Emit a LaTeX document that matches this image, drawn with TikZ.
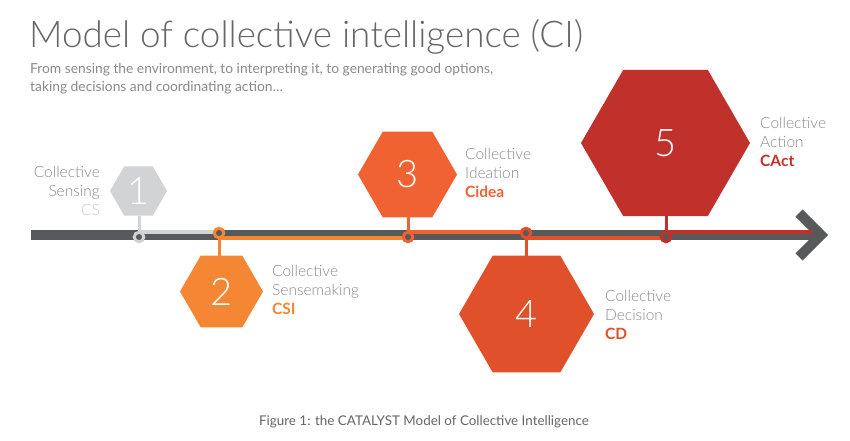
\documentclass[tikz,border=0pt]{standalone}
\usepackage{fontspec}
\setmainfont{Lato}
\newfontfamily\latolight{Lato Light}
\usetikzlibrary{shapes.geometric}
\definecolor{barcol}{HTML}{58595B}
\definecolor{hexone}{HTML}{D1D3D4}
\definecolor{hextwo}{HTML}{F58634}
\definecolor{hexthree}{HTML}{F06232}
\definecolor{hexfour}{HTML}{E0502A}
\definecolor{hexfive}{HTML}{C0312B}
\definecolor{labgray}{HTML}{8A8A8A}
\definecolor{csgray}{HTML}{C8C8C8}
\definecolor{titlegray}{HTML}{666666}
\begin{document}
\begin{tikzpicture}[x=1pt,y=-1pt,
  hexa/.style={regular polygon,regular polygon sides=6,inner sep=0pt,outer sep=0pt,
    minimum size=#1,text=white,font=\latolight\fontsize{38}{40}\selectfont},
  ring/.style={circle,draw=#1,line width=3pt,fill=barcol,minimum size=9.5pt,inner sep=0pt},
  conn/.style={draw=#1,line width=4pt},
  lab/.style={inner sep=0pt,text=labgray,font=\latolight\fontsize{15.5}{19}\selectfont}
]
\useasboundingbox[fill=white] (0,0) rectangle (850,440);

% title
\node[anchor=base west,inner sep=0pt,text=titlegray,font=\latolight\fontsize{36.8}{40}\selectfont] (title) at (29,47) {Model of collective intelligence (CI)};
\node[anchor=north west,inner sep=0pt,text=labgray,align=left,font=\fontsize{13.8}{18}\selectfont] (sub) at (30,63) {From sensing the environment, to interpreting it, to generating good options,\\taking decisions and coordinating action\dots};

% main bar and arrow head
\coordinate (barstart) at (31,235);
\coordinate (barend) at (819,235);
\draw[barcol,line width=10pt] (barstart) -- (barend);
\coordinate (chevtop) at (799,213);
\coordinate (chevtip) at (821,235);
\coordinate (chevbot) at (799,257);
\draw[barcol,line width=10pt,line join=miter] (chevtop) -- (chevtip) -- (chevbot);

% circle positions
\coordinate (p1) at (139,237);
\coordinate (p2) at (219,233);
\coordinate (p3) at (408,237);
\coordinate (p4) at (526,233);
\coordinate (p5) at (666,237);
\coordinate (pend) at (812,237);

% connecting lines along bar
\draw[conn=hexone] ([yshift=5pt]p1) -- ([yshift=5pt]p1 -| p2);
\draw[conn=hextwo] ([yshift=-5pt]p2) -- ([yshift=-5pt]p2 -| p3);
\draw[conn=hexthree] ([yshift=5pt]p3) -- ([yshift=5pt]p3 -| p4);
\draw[conn=hexfour] ([yshift=-5pt]p4) -- ([yshift=-5pt]p4 -| p5);
\draw[conn=hexfive] ([yshift=5pt]p5) -- ([yshift=5pt]pend);

% hexagons
\node[hexa=57pt,fill=hexone] (h1) at (138.5,191) {1};
\node[hexa=83pt,fill=hextwo] (h2) at (221.5,291.5) {2};
\node[hexa=99pt,fill=hexthree] (h3) at (407.5,174.5) {3};
\node[hexa=135pt,fill=hexfour] (h4) at (526.5,314) {4};
\node[hexa=169pt,fill=hexfive] (h5) at (665.5,143) {5};

% stems
\draw[conn=hexone,line width=3pt] (p1) -- (p1 |- h1.south);
\draw[conn=hextwo,line width=3pt] (p2) -- (p2 |- h2.north);
\draw[conn=hexthree,line width=3pt] (p3) -- (p3 |- h3.south);
\draw[conn=hexfour,line width=3pt] (p4) -- (p4 |- h4.north);
\draw[conn=hexfive,line width=3pt] (p5) -- (p5 |- h5.south);

% rings
\node[ring=hexone] (r1) at (p1) {};
\node[ring=hextwo] (r2) at (p2) {};
\node[ring=hexthree] (r3) at (p3) {};
\node[ring=hexfour] (r4) at (p4) {};
\node[ring=hexfive] (r5) at (p5) {};

% labels
\node[lab,align=right,anchor=north east] (l1) at (100,166) {Collective\\Sensing\\{\color{csgray}CS}};
\node[lab,align=left,anchor=north west] (l2) at (272,265) {Collective\\Sensemaking\\{\color{hextwo}\normalfont\fontsize{15.5}{19}\selectfont\bfseries CSI}};
\node[lab,align=left,anchor=north west] (l3) at (465,148) {Collective\\Ideation\\{\color{hexthree}\normalfont\fontsize{15.5}{19}\selectfont\bfseries Cidea}};
\node[lab,align=left,anchor=north west] (l4) at (605,290) {Collective\\Decision\\{\color{hexfour}\normalfont\fontsize{15.5}{19}\selectfont\bfseries CD}};
\node[lab,align=left,anchor=north west] (l5) at (760,117) {Collective\\Action\\{\color{hexfive}\normalfont\fontsize{15.5}{19}\selectfont\bfseries CAct}};

% caption
\node[anchor=base,inner sep=0pt,text=titlegray,font=\fontsize{13.4}{15}\selectfont] (cap) at (424,425) {Figure 1: the CATALYST Model of Collective Intelligence};
\end{tikzpicture}
\end{document}
